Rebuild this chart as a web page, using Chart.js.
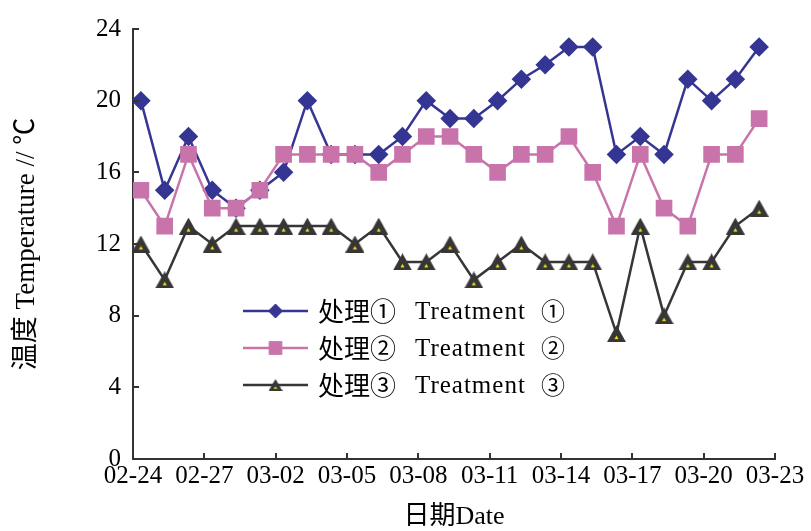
<!DOCTYPE html>
<html>
<head>
<meta charset="utf-8">
<script src="https://cdn.jsdelivr.net/npm/chart.js@4.4.1/dist/chart.umd.min.js"></script>
<style>
  html, body { margin: 0; padding: 0; background: #fff; }
  #wrap { width: 811px; height: 531px; position: relative; }
</style>
</head>
<body>
<div id="wrap"><canvas id="tempChart"></canvas></div>
<script>
// 観測日 (02-24 から毎日, 8時に記録)
const dayIndex = [0, 1, 2, 3, 4, 5, 6, 7, 8, 9, 10, 11, 12, 13, 14, 15, 16, 17, 18, 19, 20, 21, 22, 23, 24, 25, 26];
const obsHour = 8;
const tickDates = ['02-24', '02-27', '03-02', '03-05', '03-08', '03-11', '03-14', '03-17', '03-20', '03-23'];
const yTicks = [0, 4, 8, 12, 16, 20, 24];

const treatment1 = [20, 15, 18, 15, 14, 15, 16, 20, 17, 17, 17, 18, 20, 19, 19, 20, 21.2, 22, 23, 23, 17, 18, 17, 21.2, 20, 21.2, 23];
const treatment2 = [15, 13, 17, 14, 14, 15, 17, 17, 17, 17, 16, 17, 18, 18, 17, 16, 17, 17, 18, 16, 13, 17, 14, 13, 17, 17, 19];
const treatment3 = [12, 10, 13, 12, 13, 13, 13, 13, 13, 12, 13, 11, 11, 12, 10, 11, 12, 11, 11, 11, 7, 13, 8, 11, 11, 13, 14];

const seriesNames = [
    ['处理①', 'Treatment', '①'],
    ['处理②', 'Treatment', '②'],
    ['处理③', 'Treatment', '③']
];

const serif = "'Liberation Serif', 'Times New Roman', 'Noto Sans CJK SC', serif";
const cjk = "'Noto Sans CJK SC', 'Liberation Serif', sans-serif";

function toPoints(values) {
    return values.map((v, i) => ({ x: dayIndex[i] + obsHour / 24, y: v }));
}

// 黄色の点つき三角マーカー
function makeTriangle(w, h) {
    const c = document.createElement('canvas');
    c.width = w;
    c.height = h;
    const g = c.getContext('2d');
    g.fillStyle = '#363636';
    g.beginPath();
    g.moveTo(w / 2, 0);
    g.lineTo(w, h);
    g.lineTo(0, h);
    g.closePath();
    g.fill();
    g.fillStyle = '#f2e41c';
    g.beginPath();
    g.moveTo(w / 2, h * 0.62);
    g.lineTo(w / 2 + 2, h * 0.82);
    g.lineTo(w / 2 - 2, h * 0.82);
    g.closePath();
    g.fill();
    return c;
}

const triBig = makeTriangle(19, 17);
const triSmall = makeTriangle(14, 12);

// 内向きの目盛り線
const inwardTicks = {
    id: 'inwardTicks',
    afterDraw(chart) {
        const ctx = chart.ctx;
        const xs = chart.scales.x;
        const ys = chart.scales.y;
        const a = chart.chartArea;
        ctx.save();
        ctx.strokeStyle = '#333';
        ctx.lineWidth = 2;
        ctx.beginPath();
        ys.ticks.forEach(t => {
            const py = Math.round(ys.getPixelForValue(t.value));
            ctx.moveTo(a.left, py);
            ctx.lineTo(a.left + 6, py);
        });
        xs.ticks.forEach(t => {
            const px = Math.round(xs.getPixelForValue(t.value));
            ctx.moveTo(px, a.bottom);
            ctx.lineTo(px, a.bottom - 6);
        });
        ctx.stroke();
        ctx.restore();
    }
};

// プロット領域内の凡例
const insideLegend = {
    id: 'insideLegend',
    afterDatasetsDraw(chart) {
        const ctx = chart.ctx;
        const a = chart.chartArea;
        ctx.save();
        chart.data.datasets.forEach((ds, i) => {
            const y = a.top + 282 + i * 37;
            const x0 = a.left + 110;
            const x1 = a.left + 175;
            ctx.strokeStyle = ds.borderColor;
            ctx.lineWidth = ds.borderWidth;
            ctx.beginPath();
            ctx.moveTo(x0, y);
            ctx.lineTo(x1, y);
            ctx.stroke();
            ctx.fillStyle = ds.pointBackgroundColor;
            ctx.strokeStyle = ds.pointBorderColor;
            ctx.lineWidth = 1;
            Chart.helpers.drawPoint(ctx, {
                pointStyle: ds.legendStyle,
                radius: ds.legendRadius,
                rotation: 0,
                borderWidth: 1
            }, (x0 + x1) / 2, y);

            const name = seriesNames[i];
            ctx.fillStyle = '#000';
            ctx.textBaseline = 'middle';
            ctx.textAlign = 'left';
            ctx.font = '26px ' + cjk;
            ctx.fillText(name[0], a.left + 185, y);
            ctx.font = '25px ' + serif;
            if ('letterSpacing' in ctx) ctx.letterSpacing = '1px';
            ctx.fillText(name[1], a.left + 282, y + 1);
            if ('letterSpacing' in ctx) ctx.letterSpacing = '0px';
            ctx.font = '24px ' + cjk;
            ctx.fillText(name[2], a.left + 408, y);
        });
        ctx.restore();
    }
};

const ctx = document.getElementById('tempChart').getContext('2d');

new Chart(ctx, {
    type: 'line',
    data: {
        datasets: [
            {
                label: seriesNames[0].join(' '),
                data: toPoints(treatment1),
                borderColor: '#353594',
                backgroundColor: '#353594',
                pointBackgroundColor: '#353594',
                pointBorderColor: '#353594',
                borderWidth: 2.5,
                pointStyle: 'rectRot',
                pointRadius: 8,
                legendStyle: 'rectRot',
                legendRadius: 7,
                tension: 0,
                order: 3
            },
            {
                label: seriesNames[1].join(' '),
                data: toPoints(treatment2),
                borderColor: '#c874ab',
                backgroundColor: '#c874ab',
                pointBackgroundColor: '#c874ab',
                pointBorderColor: '#c874ab',
                borderWidth: 2.5,
                pointStyle: 'rect',
                pointRadius: 10,
                legendStyle: 'rect',
                legendRadius: 9,
                tension: 0,
                order: 2
            },
            {
                label: seriesNames[2].join(' '),
                data: toPoints(treatment3),
                borderColor: '#363636',
                backgroundColor: '#363636',
                pointBackgroundColor: '#363636',
                pointBorderColor: '#363636',
                borderWidth: 2.5,
                pointStyle: triBig,
                pointRadius: 8,
                legendStyle: triSmall,
                legendRadius: 6,
                tension: 0,
                order: 1
            }
        ]
    },
    options: {
        responsive: true,
        maintainAspectRatio: false,
        animation: false,
        events: [],
        layout: { padding: { top: 29, right: 36, bottom: 0, left: 0 } },
        plugins: {
            legend: { display: false },
            tooltip: { enabled: false }
        },
        scales: {
            x: {
                type: 'linear',
                min: 0,
                max: 27,
                afterFit(scale) { scale.height = 72; },
                ticks: {
                    stepSize: 3,
                    autoSkip: false,
                    maxRotation: 0,
                    padding: 2,
                    color: '#000',
                    font: { family: serif, size: 25 },
                    callback: (v) => tickDates[v / 3]
                },
                grid: { display: true, drawOnChartArea: false, drawTicks: false },
                border: { display: true, color: '#333', width: 2 },
                title: {
                    display: true,
                    text: '日期Date',
                    color: '#000',
                    font: { family: serif, size: 26, lineHeight: 1 },
                    padding: { top: 0, bottom: 1 }
                }
            },
            y: {
                min: 0,
                max: 24,
                afterFit(scale) { scale.width = 133; },
                afterBuildTicks(scale) { scale.ticks = yTicks.map(v => ({ value: v })); },
                ticks: {
                    padding: 12,
                    color: '#000',
                    font: { family: serif, size: 25 }
                },
                grid: { display: true, drawOnChartArea: false, drawTicks: false },
                border: { display: true, color: '#333', width: 2 },
                title: {
                    display: true,
                    text: '温度 Temperature // ℃',
                    color: '#000',
                    font: { family: serif, size: 27 },
                    padding: { top: 11, bottom: 0 }
                }
            }
        }
    },
    plugins: [inwardTicks, insideLegend]
});
</script>
</body>
</html>
